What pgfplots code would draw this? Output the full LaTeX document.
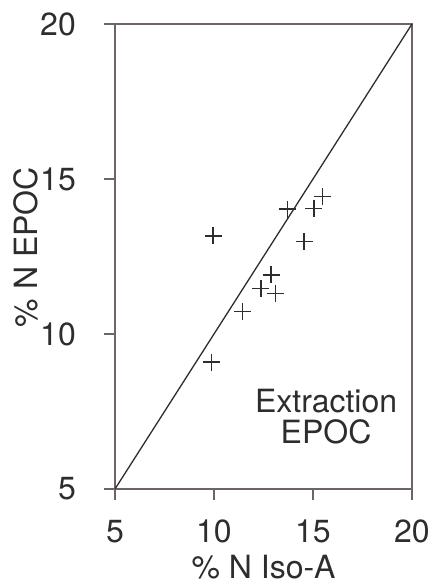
\documentclass[border=0pt]{standalone}
\usepackage{pgfplots}
\pgfplotsset{compat=1.18}
\usepackage{fontspec}
\setmainfont{TeX Gyre Heros}
\definecolor{framec}{RGB}{110,100,100}
\definecolor{inkc}{RGB}{45,45,45}
\begin{document}
\begin{tikzpicture}
\begin{axis}[
  at={(0pt,0pt)}, anchor=south west,
  scale only axis,
  width=297pt, height=465pt,
  xmin=5, xmax=20, ymin=5, ymax=20,
  xtick={5,10,15,20}, ytick={5,10,15,20},
  tick align=outside,
  major tick length=11pt,
  axis line style={framec, line width=1.4pt},
  major tick style={draw=framec, line width=1.5pt},
  xtick pos=lower, ytick pos=left,
  /pgf/number format/assume math mode=true,
  ticklabel style={font=\fontsize{32}{36}\selectfont, text=inkc, inner sep=0pt},
  xticklabel style={anchor=north, yshift=-20pt},
  yticklabel style={anchor=east, xshift=-28pt},
  xlabel={\% N Iso-A},
  ylabel={\% N EPOC},
  xlabel style={font=\fontsize{32}{36}\selectfont, text=inkc, inner sep=0pt,
    at={(axis description cs:0.5,0)}, anchor=north, yshift=-66pt},
  ylabel style={font=\fontsize{32}{36}\selectfont, text=inkc, inner sep=0pt,
    at={(axis description cs:0,0.52)}, anchor=south, yshift=77pt},
  clip=false,
]
\addplot[inkc, line width=1.3pt] coordinates {(5,5) (20,20)};
\addplot[only marks, mark=+, mark size=8.5pt, inkc, mark options={line width=1.6pt}] coordinates {
  (9.96,13.17)
  (13.72,14.03)
  (15.05,14.05)
  (15.47,14.43)
  (14.55,12.99)
  (12.88,11.91)
  (12.36,11.47)
  (13.10,11.31)
  (11.43,10.73)
  (9.88,9.09)
};
\node[font=\fontsize{32}{31}\selectfont, text=inkc, align=center, anchor=north, inner sep=0pt] at (axis cs:15.66,8.23) {Extraction\\EPOC};
\pgfplotsinvokeforeach{5,10,15,20}{
  \draw[framec, line width=1.5pt] (axis cs:#1,5) -- ++(0pt,-11pt);
  \draw[framec, line width=1.5pt] (axis cs:5,#1) -- ++(-11pt,0pt);
}
\end{axis}
\pgfresetboundingbox
\path[use as bounding box] (-115pt,-98pt) rectangle (320pt,489pt);
\end{tikzpicture}
\end{document}
